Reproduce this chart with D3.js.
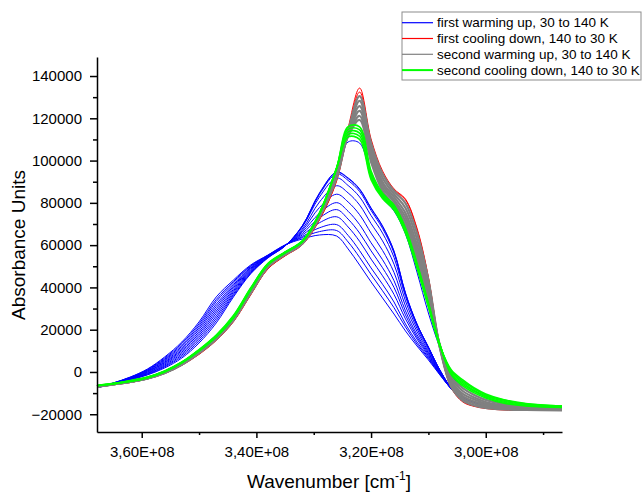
<!DOCTYPE html>
<html>
<head>
<meta charset="utf-8">
<script src="https://cdn.jsdelivr.net/npm/d3@7"></script>
<style>
  body { margin: 0; background: #fff; }
  svg { display: block; font-family: Arial, "Liberation Sans", sans-serif; }
</style>
</head>
<body>
<div id="chart"></div>
<script>
// wavenumber samples shared by every spectrum
const wavenumber = [367.8e6, 365e6, 362e6, 359e6, 356e6, 353e6, 350e6, 347e6, 344e6, 341e6,
  338e6, 335e6, 332e6, 329e6, 326e6, 324e6, 322e6, 320e6, 318e6, 316e6,
  314e6, 312e6, 310e6, 308e6, 306e6, 304e6, 302e6, 300e6, 297e6, 293e6, 286.7e6];

// first warming up, 30 to 140 K (blue)
const firstWarmingUp = [
  [-6600, -5700, -4300, -2400, 500, 4700, 10400, 17500, 26500, 39300, 51100, 56800, 62000, 75200, 95500, 108800, 108300, 93200, 82300, 76200, 65300, 47300, 27900, 11400, -1400, -7600, -10900, -13200, -15100, -16300, -16800],
  [-7300, -5900, -3800, -1400, 1900, 6600, 13700, 23200, 35500, 46400, 53900, 59600, 69100, 84700, 94600, 91800, 86600, 77600, 69100, 57200, 37400, 22700, 11800, 900, -7600, -12300, -14200, -15400, -16100, -16600, -16800],
  [-7300, -5900, -3600, -1200, 2400, 7300, 14600, 24300, 36200, 46700, 54100, 59600, 69100, 84400, 94400, 91500, 86300, 77300, 68800, 57000, 37100, 22700, 11800, 900, -7600, -12300, -14200, -15400, -16100, -16600, -16800],
  [-7300, -5800, -3500, -900, 2800, 8000, 15500, 25400, 36900, 47100, 54200, 59700, 68800, 84000, 93700, 90600, 85400, 76400, 67900, 56300, 36900, 22500, 11600, 900, -7600, -12300, -14200, -15400, -16100, -16600, -16800],
  [-7300, -5700, -3400, -700, 3300, 8700, 16400, 26500, 37700, 47500, 54300, 59700, 68600, 82800, 91800, 88200, 82800, 74000, 65700, 54200, 35700, 21800, 11400, 700, -7600, -12300, -14200, -15400, -16100, -16600, -16800],
  [-7300, -5700, -3300, -400, 3800, 9400, 17300, 27700, 38400, 47900, 54400, 59800, 67600, 80400, 88100, 84700, 79000, 70200, 62000, 51000, 33600, 20600, 10600, 500, -7600, -12300, -14200, -15400, -16100, -16600, -16800],
  [-7300, -5600, -3100, -100, 4300, 10100, 18200, 28800, 39100, 48300, 54600, 59800, 66900, 77800, 84100, 80400, 74400, 65700, 57500, 47100, 31200, 19200, 9700, 200, -7600, -12300, -14200, -15400, -16100, -16600, -16800],
  [-7300, -5500, -3000, 100, 4700, 10700, 19100, 29900, 39900, 48700, 54700, 59800, 66200, 75100, 80100, 76000, 69700, 61100, 53100, 43200, 28900, 17700, 9000, -200, -8000, -12800, -14700, -15600, -16300, -16600, -16800],
  [-7300, -5400, -2900, 400, 5200, 11400, 20100, 31000, 40600, 49100, 54800, 59900, 65500, 72900, 76800, 72300, 65700, 57300, 49300, 40000, 27000, 16600, 8300, -500, -8000, -12800, -14700, -15600, -16300, -16600, -16800],
  [-7300, -5400, -2700, 700, 5700, 12100, 21000, 32100, 41300, 49400, 55000, 59900, 64800, 70600, 73400, 68600, 61800, 53400, 45500, 36700, 25100, 15600, 7600, -700, -8000, -12800, -14700, -15600, -16300, -16600, -16800],
  [-7300, -5300, -2600, 900, 6100, 12800, 21900, 33300, 42100, 49900, 55100, 60000, 64100, 68200, 69700, 64600, 57400, 49200, 41500, 33100, 22700, 14200, 6900, -900, -8000, -12800, -14700, -15600, -16300, -16600, -16800],
  [-7300, -5300, -2500, 1200, 6600, 13500, 22800, 34300, 42800, 50200, 55200, 60000, 63600, 66400, 66900, 61500, 54200, 46100, 38400, 30400, 21300, 13200, 6400, -1200, -8000, -12800, -14700, -15600, -16300, -16600, -16800],
  [-7300, -5200, -2400, 1400, 7100, 14200, 23700, 35500, 43500, 50600, 55300, 60100, 62900, 64800, 64300, 58200, 50600, 42600, 35000, 27400, 19400, 12300, 5700, -1400, -8000, -12800, -14700, -15600, -16300, -16600, -16800]
];

// first cooling down, 140 to 30 K (red)
const firstCoolingDown = [
  [-7100, -6100, -5000, -3300, -700, 3100, 8300, 14900, 23700, 36400, 48700, 54900, 60100, 71900, 90800, 115400, 134300, 110200, 95100, 86600, 81800, 68100, 44900, 11400, -7600, -14200, -16300, -17300, -18000, -18200, -18200],
  [-7000, -6000, -4900, -3200, -600, 3300, 8500, 15100, 24000, 36600, 48900, 55000, 60300, 72100, 90300, 114000, 132400, 109300, 94100, 86100, 81400, 67400, 44500, 11600, -7300, -14000, -16100, -17000, -17700, -18000, -18000]
];

// second warming up, 30 to 140 K (grey)
const secondWarmingUp = [
  [-6900, -5900, -4700, -3100, -500, 3500, 9000, 15600, 24600, 37400, 49700, 55600, 60800, 73300, 91800, 114000, 130500, 108300, 93700, 85600, 79900, 65700, 43500, 11400, -7100, -13500, -15800, -17000, -17700, -18000, -18200],
  [-6900, -5900, -4700, -3100, -500, 3500, 9000, 15600, 24600, 37400, 49700, 55600, 60800, 73300, 92700, 113000, 128200, 106400, 91800, 84200, 77600, 62900, 41200, 11800, -6100, -12500, -14900, -16300, -17300, -17700, -18000],
  [-6900, -5900, -4700, -3100, -500, 3500, 9000, 15600, 24600, 37400, 49700, 55600, 60800, 73300, 93700, 112600, 125800, 104500, 89900, 82800, 75200, 60100, 39300, 11800, -5200, -11400, -14000, -15600, -16800, -17300, -17700],
  [-6800, -5800, -4600, -3000, -300, 3800, 9300, 15900, 24900, 37800, 50000, 55800, 61000, 73700, 94100, 112100, 123500, 102600, 88500, 81400, 73300, 57700, 37400, 12300, -4300, -10400, -13000, -14900, -16300, -17000, -17500],
  [-6800, -5800, -4600, -3000, -300, 3800, 9300, 15900, 24900, 37800, 50000, 55800, 61000, 73700, 95100, 111600, 121100, 100700, 87000, 80400, 71400, 55300, 35500, 12300, -3300, -9000, -12100, -14200, -15800, -16800, -17300],
  [-6800, -5800, -4600, -3000, -300, 3800, 9300, 15900, 24900, 37800, 50000, 55800, 61000, 73700, 95500, 111600, 119200, 99300, 85600, 79000, 69500, 53000, 34100, 12800, -2400, -7600, -10900, -13200, -15100, -16300, -17000]
];

// second cooling down, 140 to 30 K (green)
const secondCoolingDown = [
  [-6600, -5700, -4500, -2800, 0, 4300, 9900, 16600, 25500, 38800, 50600, 56300, 61500, 74700, 96500, 116000, 116000, 95000, 84500, 79000, 68100, 51600, 32600, 12800, -1400, -6600, -9900, -12300, -14700, -16100, -16800],
  [-6500, -5600, -4400, -2700, 100, 4400, 10100, 16800, 25800, 39000, 50800, 56400, 61600, 74800, 96500, 114800, 114500, 94000, 83800, 78300, 67400, 50800, 32200, 12800, -900, -5900, -9200, -11800, -14200, -15800, -16600],
  [-6500, -5600, -4300, -2600, 200, 4500, 10300, 17000, 26100, 39300, 51000, 56500, 61700, 75000, 96500, 113600, 113000, 93000, 83200, 77800, 66900, 50400, 31700, 12800, -200, -5200, -8800, -11400, -13700, -15400, -16300],
  [-6400, -5500, -4200, -2500, 300, 4600, 10400, 17200, 26400, 39500, 51200, 56600, 61800, 75100, 96500, 112400, 111500, 92000, 82600, 77300, 66500, 49900, 31200, 12300, 500, -4500, -8000, -10900, -13200, -15100, -16100],
  [-6400, -5400, -4000, -2400, 500, 4700, 10600, 17500, 26700, 39700, 51300, 56800, 62000, 75200, 96500, 111200, 110000, 91000, 82000, 76600, 65700, 49200, 30700, 12300, 900, -3800, -7600, -10400, -13000, -14900, -16100]
];

const legendLabels = ['first warming up, 30 to 140 K', 'first cooling down, 140 to 30 K',
  'second warming up, 30 to 140 K', 'second cooling down, 140 to 30 K'];
const seriesColors = ['#0000ff', '#ff0000', '#808080', '#00ff00'];
const seriesWidths = [1, 1, 2.2, 1.6];

const xTicks = [3.6e8, 3.4e8, 3.2e8, 3.0e8];
const xMinorTicks = [3.5e8, 3.3e8, 3.1e8, 2.9e8];
const yTicks = [-20000, 0, 20000, 40000, 60000, 80000, 100000, 120000, 140000];
const yMinorTicks = [-10000, 10000, 30000, 50000, 70000, 90000, 110000, 130000];

const width = 644, height = 493;

const svg = d3.select('#chart')
    .append('svg')
    .attr('width', width)
    .attr('height', height);

const x = d3.scaleLinear().domain([367.8e6, 286.7e6]).range([97, 562]);
const y = d3.scaleLinear().domain([-28400, 149000]).range([432, 57]);

// spectra, drawn in legend order
const allSeries = [firstWarmingUp, firstCoolingDown, secondWarmingUp, secondCoolingDown];

const line = d3.line()
    .x((d, i) => x(wavenumber[i]))
    .y(d => y(d))
    .curve(d3.curveCatmullRom.alpha(0.5));

allSeries.forEach((curves, s) => {
  svg.append('g')
      .selectAll('path')
      .data(curves)
      .enter().append('path')
      .attr('fill', 'none')
      .attr('stroke', seriesColors[s])
      .attr('stroke-width', seriesWidths[s])
      .attr('d', line);
});

// axes
const fmtX = v => (v / 1e8).toFixed(2).replace('.', ',') + 'E+08';

svg.append('g')
    .attr('transform', `translate(0,${y.range()[0]})`)
    .call(d3.axisBottom(x).tickValues(xTicks).tickFormat(fmtX).tickSize(6).tickSizeOuter(0).tickPadding(8));

svg.append('g')
    .attr('transform', `translate(0,${y.range()[0]})`)
    .call(d3.axisBottom(x).tickValues(xMinorTicks).tickFormat('').tickSize(3).tickSizeOuter(0))
    .select('.domain').remove();

svg.append('g')
    .attr('transform', `translate(${x.range()[0]},0)`)
    .call(d3.axisLeft(y).tickValues(yTicks).tickFormat(d3.format('d')).tickSize(7).tickSizeOuter(0).tickPadding(8));

svg.append('g')
    .attr('transform', `translate(${x.range()[0]},0)`)
    .call(d3.axisLeft(y).tickValues(yMinorTicks).tickFormat('').tickSize(4).tickSizeOuter(0))
    .select('.domain').remove();

svg.selectAll('.domain, .tick line')
    .attr('stroke', '#000')
    .attr('stroke-width', 1.5);

svg.selectAll('.tick text')
    .attr('fill', '#000')
    .style('font-size', '15px')
    .style('font-family', 'Arial, "Liberation Sans", sans-serif');

// axis titles
svg.append('text')
    .attr('transform', 'translate(25,245) rotate(-90)')
    .attr('text-anchor', 'middle')
    .style('font-size', '19px')
    .text('Absorbance Units');

const xTitle = svg.append('text')
    .attr('x', 329)
    .attr('y', 488)
    .attr('text-anchor', 'middle')
    .style('font-size', '19px');
xTitle.append('tspan').text('Wavenumber [cm');
xTitle.append('tspan').attr('dy', -8).style('font-size', '12px').text('-1');
xTitle.append('tspan').attr('dy', 8).text(']');

// legend
const legend = svg.append('g').attr('transform', 'translate(402,12)');

legend.append('rect')
    .attr('width', 239)
    .attr('height', 68)
    .attr('fill', '#fff')
    .attr('stroke', '#8c8c8c')
    .attr('stroke-width', 1);

const rows = legend.selectAll('g.row')
    .data(legendLabels)
    .enter().append('g')
    .attr('class', 'row')
    .attr('transform', (d, i) => `translate(0,${10.7 + i * 15.8})`);

rows.append('line')
    .attr('x1', 0)
    .attr('x2', 31)
    .attr('stroke', (d, i) => seriesColors[i])
    .attr('stroke-width', (d, i) => i === 3 ? 2 : 1.2);

rows.append('text')
    .attr('x', 35)
    .attr('dy', '0.35em')
    .style('font-size', '13.5px')
    .text(d => d);
</script>
</body>
</html>
